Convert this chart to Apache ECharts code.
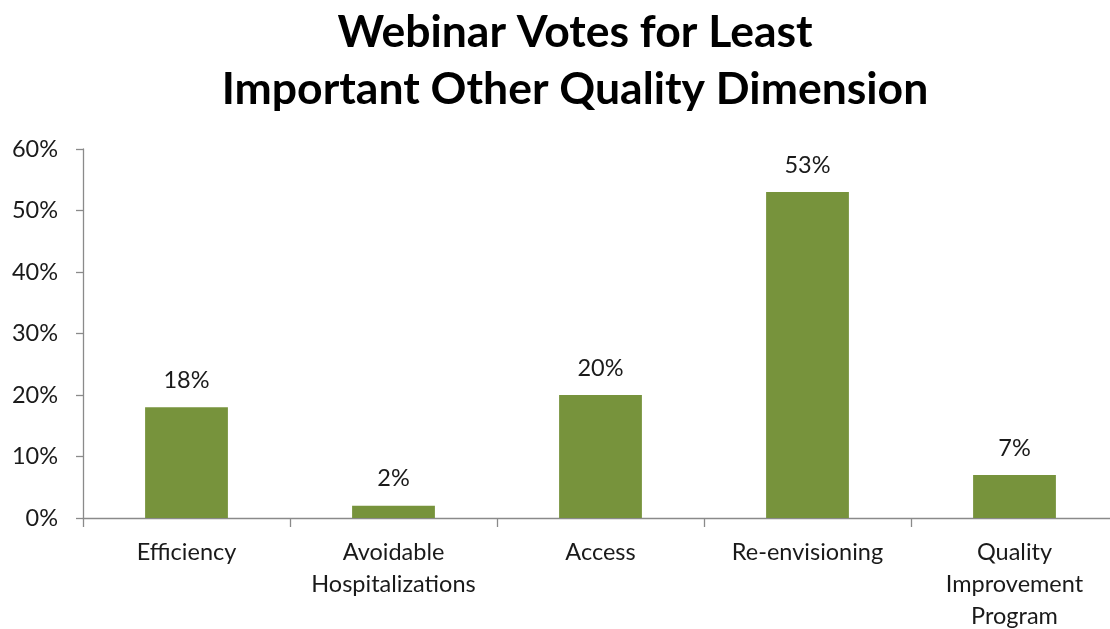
<!DOCTYPE html>
<html>
<head>
<meta charset="utf-8">
<title>Webinar Votes for Least Important Other Quality Dimension</title>
<script src="https://cdn.jsdelivr.net/npm/echarts@6/dist/echarts.min.js"></script>
<style>
  html, body { margin: 0; padding: 0; background: #ffffff; }
  #chart { width: 1110px; height: 629px; }
</style>
</head>
<body>
<div id="chart"></div>
<script>
// Chart data
const categories = ['Efficiency', 'Avoidable\nHospitalizations', 'Access', 'Re-envisioning', 'Quality\nImprovement\nProgram'];
const votePercent = [18, 2, 20, 53, 7];
const yTicks = [0, 10, 20, 30, 40, 50, 60];

const FONT = 'Lato, "Open Sans", "Noto Sans", sans-serif';
const axisGray = '#8a8a8a';
const textColor = '#1a1a1a';

const chart = echarts.init(document.getElementById('chart'), null, { renderer: 'canvas' });

chart.setOption({
  animation: false,
  backgroundColor: '#ffffff',
  title: {
    text: 'Webinar Votes for Least\nImportant Other Quality Dimension',
    left: 570,
    textAlign: 'center',
    top: -1,
    textStyle: {
      fontFamily: FONT,
      fontWeight: 'bold',
      fontSize: 44.5,
      lineHeight: 57,
      color: '#000000'
    }
  },
  grid: {
    left: 83,
    top: 149,
    width: 1035,
    height: 369,
    containLabel: false,
    outerBoundsMode: 'none'
  },
  xAxis: {
    type: 'category',
    data: categories,
    boundaryGap: true,
    axisLine: { lineStyle: { color: axisGray, width: 1.3 } },
    axisTick: { show: true, alignWithLabel: false, length: 9, lineStyle: { color: axisGray, width: 1.3 } },
    axisLabel: {
      interval: 0,
      margin: 18,
      fontFamily: FONT,
      fontSize: 23.5,
      lineHeight: 32,
      color: textColor,
      verticalAlign: 'top'
    }
  },
  yAxis: {
    type: 'value',
    min: yTicks[0],
    max: yTicks[yTicks.length - 1],
    interval: 10,
    splitLine: { show: false },
    axisLine: { show: true, lineStyle: { color: axisGray, width: 1.3 } },
    axisTick: { show: true, length: 7, lineStyle: { color: axisGray, width: 1.3 } },
    axisLabel: {
      margin: 25,
      fontFamily: FONT,
      fontSize: 23.5,
      color: textColor,
      formatter: v => v + '%'
    }
  },
  series: [{
    type: 'bar',
    data: votePercent,
    barWidth: '40%',
    itemStyle: { color: '#77933C' },
    label: {
      show: true,
      position: 'top',
      distance: 15,
      fontFamily: FONT,
      fontSize: 23.5,
      color: textColor,
      formatter: p => p.value + '%'
    }
  }]
});
</script>
</body>
</html>
